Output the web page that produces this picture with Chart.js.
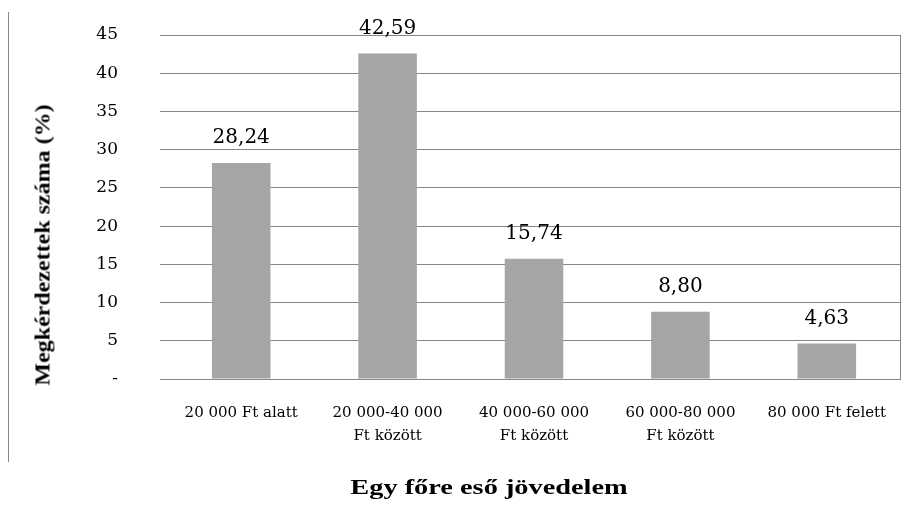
<!DOCTYPE html>
<html>
<head>
<meta charset="utf-8">
<script src="https://cdn.jsdelivr.net/npm/chart.js@4.4.1/dist/chart.umd.min.js"></script>
<style>
  html, body { margin: 0; padding: 0; background: #fff; }
  #wrap { position: relative; width: 917px; height: 510px; }
  #chart { display: block; }
  #frame { position: absolute; left: 8px; top: 12px; width: 0; height: 450px; border-left: 1px solid #888; }
  .ttl { position: absolute; font-family: "Liberation Serif", serif; font-weight: bold; color: #000; white-space: nowrap; }
  #xTitle { left: 489px; top: 487px; font-size: 21px; transform: translate(-50%, -50%) scaleX(1.35); }
  #yTitle { left: 43px; top: 245px; font-size: 20px; transform: translate(-50%, -50%) rotate(-90deg) scaleX(1.2); }
</style>
</head>
<body>
<div id="wrap">
  <canvas id="chart" width="917" height="510"></canvas>
  <div id="frame"></div>
  <div class="ttl" id="xTitle">Egy főre eső jövedelem</div>
  <div class="ttl" id="yTitle">Megkérdezettek száma (%)</div>
</div>
<script>
// Income categories and share of respondents (%)
const categories = [
  '20 000 Ft alatt',
  ['20 000-40 000', 'Ft között'],
  ['40 000-60 000', 'Ft között'],
  ['60 000-80 000', 'Ft között'],
  '80 000 Ft felett'
];
const shares = [28.24, 42.59, 15.74, 8.80, 4.63];
const yTicks = [0, 5, 10, 15, 20, 25, 30, 35, 40, 45];

const gridColor = '#868686';
const serif = '"DejaVu Serif", "Liberation Serif", serif';

// value labels above bars, with decimal comma
const valueLabels = {
  id: 'valueLabels',
  afterDatasetsDraw(chart) {
    const ctx = chart.ctx;
    const meta = chart.getDatasetMeta(0);
    ctx.save();
    ctx.font = '20px ' + serif;
    ctx.fillStyle = '#000';
    ctx.textAlign = 'center';
    ctx.textBaseline = 'bottom';
    meta.data.forEach((bar, i) => {
      ctx.fillText(shares[i].toFixed(2).replace('.', ','), bar.x, bar.y - 15);
    });
    ctx.restore();
  }
};

// right edge of the plot area
const rightBorder = {
  id: 'rightBorder',
  afterDraw(chart) {
    const { ctx, chartArea } = chart;
    ctx.save();
    ctx.strokeStyle = gridColor;
    ctx.lineWidth = 1;
    ctx.beginPath();
    ctx.moveTo(Math.round(chartArea.right) + 0.5, chartArea.top);
    ctx.lineTo(Math.round(chartArea.right) + 0.5, chartArea.bottom);
    ctx.stroke();
    ctx.restore();
  }
};

new Chart(document.getElementById('chart'), {
  type: 'bar',
  data: {
    labels: categories,
    datasets: [{
      data: shares,
      backgroundColor: '#A5A5A5',
      barPercentage: 0.4,
      categoryPercentage: 1
    }]
  },
  options: {
    responsive: false,
    animation: false,
    layout: { padding: { top: 35, right: 17, left: 0, bottom: 48 } },
    plugins: { legend: { display: false }, tooltip: { enabled: false } },
    scales: {
      x: {
        grid: { display: false },
        border: { display: true, color: gridColor },
        ticks: { color: '#000', font: { family: serif, size: 15, lineHeight: 1.5 }, padding: 15, maxRotation: 0, autoSkip: false }
      },
      y: {
        min: 0,
        max: 45,
        afterBuildTicks: s => { s.ticks = yTicks.map(v => ({ value: v })); },
        grid: { color: gridColor, tickLength: 8 },
        border: { display: false },
        ticks: {
          color: '#000',
          font: { family: serif, size: 17 },
          padding: 42,
          callback: v => (v === 0 ? '-' : v)
        },
        // the big label gap would otherwise also pad the top and bottom
        afterFit: s => { s.width = 168; s.paddingTop = 10; s.paddingBottom = 10; }
      }
    }
  },
  plugins: [valueLabels, rightBorder]
});
</script>
</body>
</html>
